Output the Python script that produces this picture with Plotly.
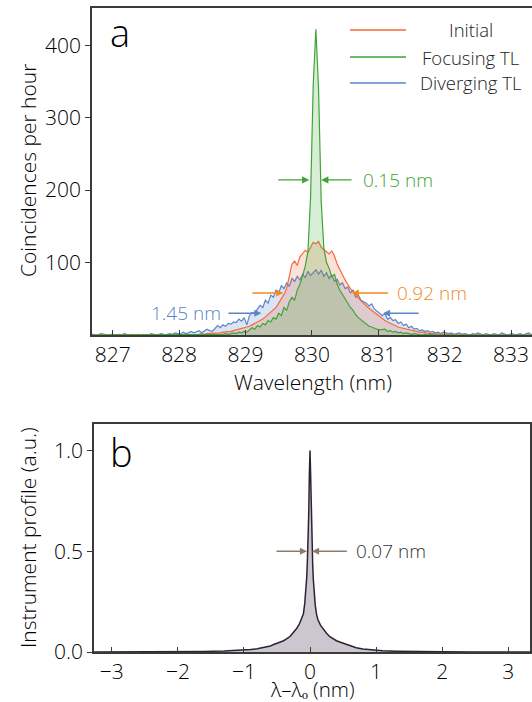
import plotly.graph_objects as go

# ---------------- data: panel a ----------------
wl_start = 826.66
wl_step = 0.04
n_pts = 168
wavelength = [round(wl_start + wl_step * i, 2) for i in range(n_pts)]

initial = [
    0, 0, 0, 0, 0, 0, 0, 0, 0, 0,
    0, 0, 0, 0, 0, 0, 0, 0, 0, 0,
    0, 0, 0, 0, 0, 0, 0, 0, 1, 0,
    0, 1, 0, 0, 1, 0, 1, 0, 1, 1,
    1, 1, 2, 1, 2, 2, 3, 2, 3, 3,
    4, 4, 5, 5, 6, 7, 8, 8, 10, 11,
    12, 14, 16, 17, 20, 22, 25, 28, 31, 34,
    38, 44, 50, 56, 64, 82, 98, 102, 96, 108,
    112, 117, 114, 122, 128, 126, 129, 121, 118, 115,
    112, 116, 109, 98, 90, 82, 76, 70, 64, 60,
    55, 51, 47, 43, 40, 37, 34, 31, 28, 25,
    22, 20, 18, 16, 14, 13, 11, 10, 9, 8,
    7, 6, 5, 5, 4, 4, 3, 3, 2, 2,
    2, 1, 1, 1, 1, 0, 1, 0, 0, 0,
    0, 0, 0, 0, 0, 0, 0, 0, 0, 0,
    0, 0, 0, 0, 0, 0, 0, 0, 0, 0,
    0, 0, 0, 0, 0, 0, 0, 0,
]

focusing = [
    0, 0, 0, 0, 0, 0, 0, 0, 0, 0,
    0, 0, 0, 0, 0, 0, 0, 0, 0, 0,
    0, 0, 0, 0, 0, 0, 0, 0, 0, 0,
    0, 0, 0, 0, 0, 0, 0, 0, 0, 0,
    0, 0, 0, 1, 0, 0, 1, 0, 1, 1,
    1, 2, 1, 2, 3, 2, 4, 3, 5, 4,
    7, 10, 8, 13, 11, 16, 14, 20, 18, 24,
    22, 30, 27, 38, 34, 46, 52, 48, 62, 70,
    82, 95, 115, 190, 345, 422, 340, 185, 120, 100,
    92, 80, 84, 70, 62, 56, 50, 44, 38, 34,
    28, 24, 21, 18, 15, 12, 11, 9, 8, 7,
    7, 8, 5, 6, 4, 5, 3, 4, 2, 3,
    2, 1, 2, 1, 1, 0, 1, 0, 1, 0,
    0, 0, 0, 0, 0, 0, 0, 0, 0, 0,
    0, 0, 0, 0, 0, 0, 0, 0, 0, 0,
    0, 0, 0, 0, 0, 0, 0, 0, 0, 0,
    0, 0, 0, 0, 0, 0, 0, 0,
]

diverging = [
    0, 1, 0, 0, 2, 1, 0, 0, 1, 0,
    0, 1, 0, 2, 0, 0, 1, 0, 1, 0,
    1, 0, 0, 2, 1, 0, 1, 2, 0, 1,
    2, 1, 3, 2, 1, 4, 2, 3, 5, 3,
    4, 6, 3, 5, 8, 6, 5, 9, 13, 10,
    14, 12, 16, 15, 18, 17, 22, 19, 24, 14,
    27, 31, 30, 36, 41, 38, 48, 44, 55, 52,
    62, 58, 68, 64, 72, 67, 78, 74, 81, 76,
    84, 79, 88, 82, 86, 90, 84, 89, 81, 86,
    78, 83, 74, 77, 69, 72, 64, 66, 58, 62,
    52, 55, 48, 46, 44, 40, 43, 36, 33, 30,
    27, 29, 22, 24, 20, 21, 16, 18, 13, 15,
    10, 12, 8, 9, 6, 7, 5, 6, 4, 5,
    3, 4, 2, 4, 3, 2, 3, 1, 2, 3,
    1, 2, 1, 0, 2, 1, 3, 1, 0, 2,
    1, 0, 2, 1, 0, 3, 1, 0, 1, 2,
    0, 1, 2, 0, 1, 3, 1, 0,
]

series_names = ["Initial", "Focusing TL", "Diverging TL"]
x_ticks_a = [827, 828, 829, 830, 831, 832, 833]
y_ticks_a = [100, 200, 300, 400]

# ---------------- data: panel b ----------------
dlam = [-3.3, -3.0, -2.5, -2.0, -1.6, -1.3, -1.1, -1.0, -0.9, -0.8,
        -0.7, -0.6, -0.55, -0.5, -0.45, -0.4, -0.35, -0.3, -0.25, -0.2,
        -0.16, -0.12, -0.1, -0.08, -0.06, -0.05, -0.04, -0.035, -0.02, -0.01,
        0.0,
        0.01, 0.02, 0.035, 0.04, 0.05, 0.06, 0.08, 0.1, 0.12, 0.16,
        0.2, 0.25, 0.3, 0.35, 0.4, 0.45, 0.5, 0.55, 0.6, 0.7,
        0.8, 0.9, 1.0, 1.1, 1.3, 1.6, 2.0, 2.5, 3.0, 3.4]
profile = [0.0, 0.0, 0.001, 0.002, 0.003, 0.005, 0.007, 0.009, 0.012, 0.016,
           0.022, 0.03, 0.037, 0.044, 0.047, 0.056, 0.066, 0.078, 0.098, 0.118,
           0.14, 0.168, 0.19, 0.24, 0.31, 0.37, 0.45, 0.5, 0.68, 0.88,
           1.0,
           0.87, 0.67, 0.5, 0.44, 0.36, 0.3, 0.23, 0.185, 0.16, 0.132,
           0.112, 0.093, 0.076, 0.064, 0.056, 0.05, 0.044, 0.038, 0.03, 0.021,
           0.015, 0.011, 0.008, 0.006, 0.004, 0.002, 0.001, 0.0, 0.0, 0.0]
x_ticks_b = [-3, -2, -1, 0, 1, 2, 3]
y_ticks_b = [0.0, 0.5, 1.0]

# ---------------- styles ----------------
FONT = "Open Sans"
WT = 300
C_INIT = "#F26B3A"
C_FOC = "#3DA534"
C_DIV = "#5A86C8"
C_ANN_ORANGE = "#F28A1E"
AX = "#3a3a3a"

W, H = 532, 702
L_M = 92
PW = W - L_M


def px_x(px):
    return (px - L_M) / PW


def px_y(py):
    return 1 - py / H


def fnt(size, color="black"):
    return dict(family=FONT, size=size, color=color, weight=WT)


fig = go.Figure()

fig.add_trace(go.Scatter(x=wavelength, y=diverging, mode="lines", name=series_names[2],
                         line=dict(color=C_DIV, width=1.2), fill="tozeroy",
                         fillcolor="rgba(90,134,200,0.22)", showlegend=False))
fig.add_trace(go.Scatter(x=wavelength, y=initial, mode="lines", name=series_names[0],
                         line=dict(color=C_INIT, width=1.2), fill="tozeroy",
                         fillcolor="rgba(242,107,58,0.2)", showlegend=False))
fig.add_trace(go.Scatter(x=wavelength, y=focusing, mode="lines", name=series_names[1],
                         line=dict(color=C_FOC, width=1.2), fill="tozeroy",
                         fillcolor="rgba(61,165,52,0.2)", showlegend=False))

fig.add_trace(go.Scatter(x=dlam, y=profile, mode="lines", xaxis="x2", yaxis="y2",
                         line=dict(color="#2D2233", width=1.5), fill="tozeroy",
                         fillcolor="#CBC7CF", showlegend=False))

tickfont = fnt(21)
common = dict(tickcolor=AX, showline=True, linecolor=AX, linewidth=1.5, showgrid=False,
              zeroline=False, tickfont=tickfont, automargin=False, ticklen=5)

fig.update_layout(
    width=W, height=H, autosize=False,
    margin=dict(l=L_M, r=0, t=0, b=0, autoexpand=False),
    paper_bgcolor="white", plot_bgcolor="white",
    font=dict(family=FONT, color="black", weight=WT),
    xaxis=dict(domain=[0, 1], range=[826.688, 833.315], tickvals=x_ticks_a,
               ticks="inside", mirror=True, anchor="y", **common),
    yaxis=dict(domain=[px_y(335), px_y(7.5)], range=[0, 452], tickvals=y_ticks_a,
               ticks="outside", mirror=False, anchor="x", **common),
    xaxis2=dict(domain=[px_x(94), px_x(530)], range=[-3.27, 3.33], tickvals=x_ticks_b,
                ticks="inside", mirror=True, anchor="y2", **common),
    yaxis2=dict(domain=[px_y(652), px_y(424.3)], range=[0, 1.13], tickvals=y_ticks_b,
                tickformat=".1f", ticks="outside", mirror=True, anchor="x2", **common),
)

anns = []
# axis titles
title_font = fnt(21)
anns.append(dict(text="Coincidences per hour", x=px_x(28), y=px_y(171), xref="paper", yref="paper",
                 textangle=-90, showarrow=False, font=title_font, xanchor="center", yanchor="middle"))
anns.append(dict(text="Wavelength (nm)", x=px_x(313), y=px_y(382), xref="paper", yref="paper",
                 showarrow=False, font=title_font, xanchor="center", yanchor="middle"))
anns.append(dict(text="Instrument profile (a.u.)", x=px_x(28), y=px_y(538), xref="paper", yref="paper",
                 textangle=-90, showarrow=False, font=title_font, xanchor="center", yanchor="middle"))
anns.append(dict(text="λ–λₒ (nm)", x=px_x(312), y=px_y(688.5), xref="paper", yref="paper",
                 showarrow=False, font=fnt(20.5), xanchor="center", yanchor="middle"))
# panel letters
anns.append(dict(text="a", x=px_x(108), y=px_y(32), xref="paper", yref="paper", showarrow=False,
                 font=fnt(38), xanchor="left", yanchor="middle"))
anns.append(dict(text="b", x=px_x(108), y=px_y(452), xref="paper", yref="paper", showarrow=False,
                 font=fnt(38), xanchor="left", yanchor="middle"))

# manual legend
leg_colors = [C_INIT, C_FOC, C_DIV]
leg_rows = [30, 57, 83]
shapes = []
for name, col, py in zip(series_names, leg_colors, leg_rows):
    shapes.append(dict(type="line", xref="paper", yref="paper", x0=px_x(350), x1=px_x(406),
                       y0=px_y(py), y1=px_y(py), line=dict(color=col, width=1.5)))
    anns.append(dict(text=name, x=px_x(471), y=px_y(py), xref="paper", yref="paper", showarrow=False,
                     font=fnt(18.5, "#222"), xanchor="center", yanchor="middle"))


def arrow(x, y, ax, color, xr="x", yr="y"):
    return dict(x=x, y=y, ax=ax, ay=y, xref=xr, yref=yr, axref=xr, ayref=yr, text="",
                showarrow=True, arrowhead=2, arrowsize=1.1, arrowwidth=1.3, arrowcolor=color,
                standoff=0, startstandoff=0)


ann_font = 19
# green 0.15 nm
anns.append(arrow(829.96, 214, 829.47, C_FOC))
anns.append(arrow(830.14, 214, 830.62, C_FOC))
anns.append(dict(text="0.15 nm", x=830.74, y=214, xref="x", yref="y", showarrow=False,
                 xanchor="left", yanchor="middle", font=fnt(ann_font, C_FOC)))
# orange 0.92 nm
anns.append(arrow(829.57, 58, 829.08, C_ANN_ORANGE))
anns.append(arrow(830.6, 58, 831.17, C_ANN_ORANGE))
anns.append(dict(text="0.92 nm", x=831.25, y=58, xref="x", yref="y", showarrow=False,
                 xanchor="left", yanchor="middle", font=fnt(ann_font, C_ANN_ORANGE)))
# blue 1.45 nm
anns.append(arrow(829.24, 30, 828.72, C_DIV))
anns.append(arrow(831.07, 30, 831.63, C_DIV))
anns.append(dict(text="1.45 nm", x=828.66, y=30, xref="x", yref="y", showarrow=False,
                 xanchor="right", yanchor="middle", font=fnt(ann_font, C_DIV)))
# panel b 0.07 nm
anns.append(arrow(-0.045, 0.5, -0.53, "#8C7B6B", "x2", "y2"))
anns.append(arrow(0.03, 0.5, 0.58, "#8C7B6B", "x2", "y2"))
anns.append(dict(text="0.07 nm", x=0.66, y=0.5, xref="x2", yref="y2", showarrow=False,
                 xanchor="left", yanchor="middle", font=fnt(ann_font, "#333")))

fig.update_layout(annotations=anns, shapes=shapes)
fig.write_html("out.html",
               config={"displayModeBar": False, "responsive": False},
               post_script="document.body.style.margin='0';document.body.style.overflow='hidden';")
